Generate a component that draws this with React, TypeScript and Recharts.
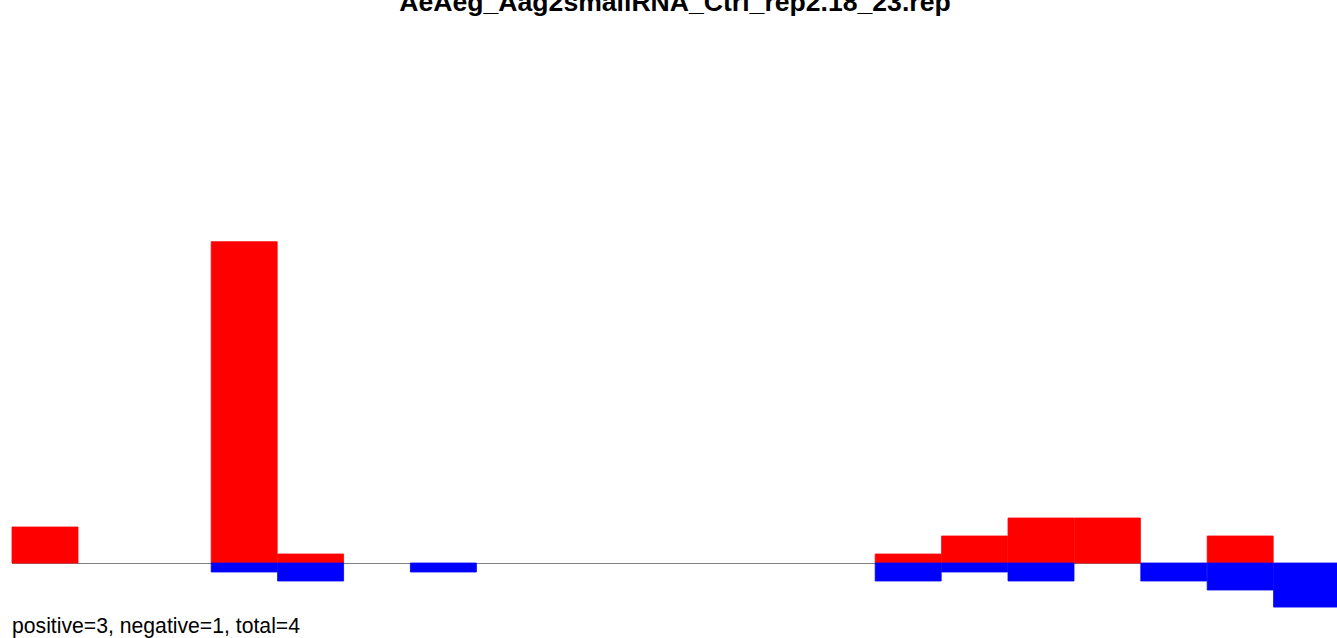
import React from "react";
import { BarChart, Bar, XAxis, YAxis, ReferenceLine } from "recharts";

const bins = ["1","2","3","4","5","6","7","8","9","10","11","12","13","14","15","16","17","18","19","20"];
const positiveCounts = [4, 0, 0, 35.7, 1, 0, 0, 0, 0, 0, 0, 0, 0, 1, 3, 5, 5, 0, 3, 0];
const negativeCounts = [0, 0, 0, -1, -2, 0, -1, 0, 0, 0, 0, 0, 0, -2, -1, -2, 0, -2, -3, -4.9];
const titleText = "AeAeg_Aag2smallRNA_Ctrl_rep2.18_23.rep";
const footerText = "positive=3, negative=1, total=4";

const data = bins.map((b, i) => ({ bin: b, pos: positiveCounts[i], neg: negativeCounts[i] }));

const W = 1337;
const H = 638;

export default function App() {
  const refProps: any = { zIndex: 100 };
  return (
    <div style={{ position: "absolute", left: 0, top: 0, width: W, height: H, background: "#fff", overflow: "hidden" }}>
      <BarChart
        width={W}
        height={H}
        data={data}
        margin={{ top: 203, right: -3, bottom: 21, left: 12 }}
        barCategoryGap={0}
        barGap={0}
        stackOffset="sign"
      >
        <XAxis dataKey="bin" hide />
        <YAxis hide domain={[-6, 40]} />
        <ReferenceLine y={0} stroke="#7f7f7f" strokeWidth={1} shapeRendering="crispEdges" {...refProps} />
        <Bar dataKey="pos" stackId="a" fill="#FF0000" stroke="#FF0000" strokeWidth={0.8} isAnimationActive={false} />
        <Bar dataKey="neg" stackId="a" fill="#0000FF" stroke="#0000FF" strokeWidth={0.8} isAnimationActive={false} />
      </BarChart>
      <svg
        width={W}
        height={H}
        style={{ position: "absolute", left: 0, top: 0, pointerEvents: "none" }}
      >
        <text
          x={675}
          y={11}
          textAnchor="middle"
          fontFamily="'Liberation Sans', Arial, sans-serif"
          fontWeight="bold"
          fontSize={26.6}
          fill="#000"
        >
          {titleText}
        </text>
        <text
          x={12}
          y={633}
          fontFamily="'Liberation Sans', Arial, sans-serif"
          fontSize={21.2}
          fill="#000"
        >
          {footerText}
        </text>
      </svg>
    </div>
  );
}
